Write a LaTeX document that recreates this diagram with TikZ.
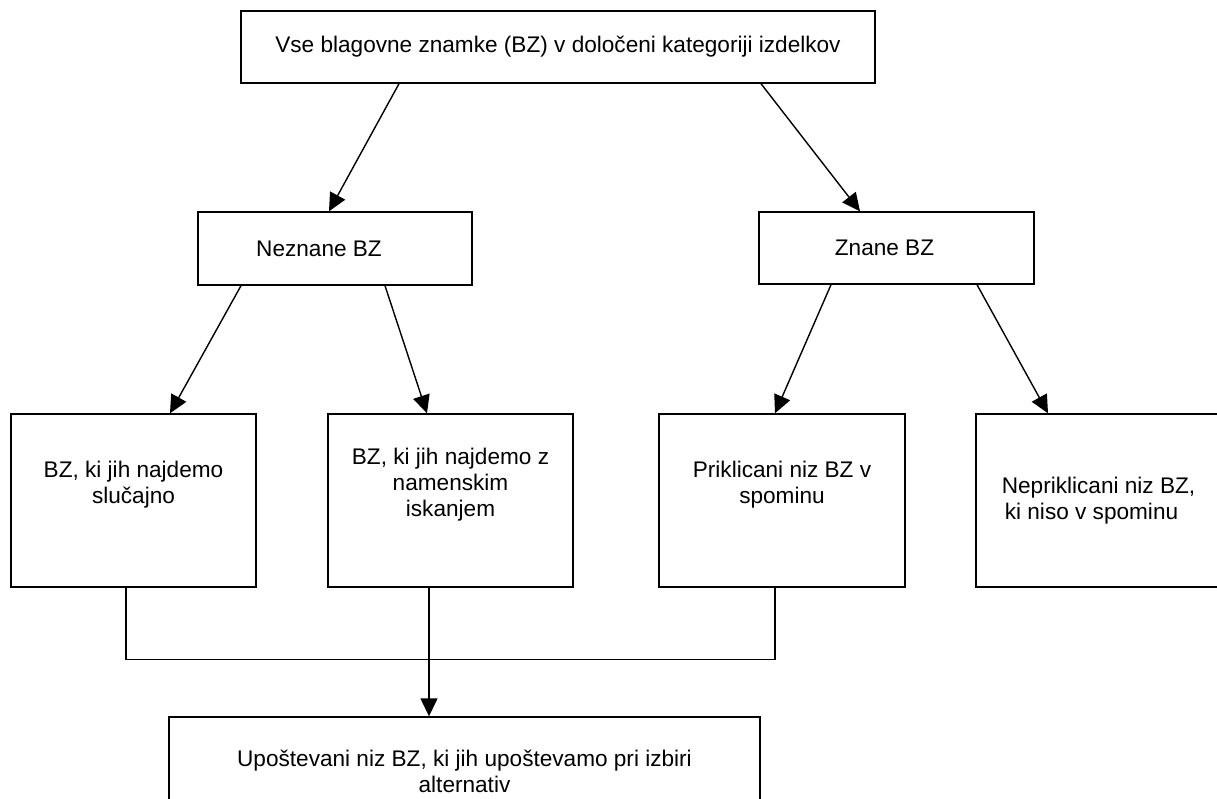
\documentclass[tikz,border=0pt]{standalone}
\usepackage{fontspec}
\setmainfont{Liberation Sans}
\usetikzlibrary{arrows.meta}

\begin{document}
\begin{tikzpicture}[x=1pt, y=-1pt, font=\fontsize{22.6}{26}\selectfont]
\tikzset{box/.style={draw, line width=1.4pt, inner sep=0, align=center},
    link/.style={line width=1.4pt, -{Triangle[length=18pt, width=17pt]}}}

\useasboundingbox (0, 0) rectangle (1217, 798);
\clip (0, 0) rectangle (1217, 798);

\node[box, minimum width=634, minimum height=72] (top) at (558, 47) {Vse blagovne znamke (BZ) v določeni kategoriji izdelkov};

\node[box, minimum width=274, minimum height=73] (nez) at (335, 248.5) {\hspace*{-32pt}Neznane BZ};
\node[box, minimum width=275, minimum height=72] (zn) at (896.5, 248) {\hspace*{-24pt}Znane BZ};

\node[box, minimum width=245, minimum height=173] (b1) at (133.5, 500.5) {BZ, ki jih najdemo\\slučajno\\[10pt]};
\node[box, minimum width=245, minimum height=173] (b2) at (450.5, 500.5) {BZ, ki jih najdemo z\\namenskim\\iskanjem\\[10pt]};
\node[box, minimum width=246, minimum height=173] (b3) at (782, 500.5) {Priklicani niz BZ v\\spominu\\[10pt]};
\node[box, minimum width=245, minimum height=173] (b4) at (1098.5, 500.5) {Nepriklicani niz BZ,\\ki niso v spominu\hspace*{14pt}};

\node[box, minimum width=591, minimum height=108] (upo) at (464.5, 771) {Upoštevani niz BZ, ki jih upoštevamo pri izbiri\\alternativ};

% arrows down the tree
\draw[link] ([xshift=-159pt]top.south) -- ([xshift=-6pt]nez.north);
\draw[link] ([xshift=203pt]top.south) -- ([xshift=-36.5pt]zn.north);
\draw[link] ([xshift=-94pt]nez.south) -- ([xshift=36.5pt]b1.north);
\draw[link] ([xshift=50pt]nez.south) -- ([xshift=-23.5pt]b2.north);
\draw[link] ([xshift=-65.5pt]zn.south) -- ([xshift=-7pt]b3.north);
\draw[link] ([xshift=80.5pt]zn.south) -- ([xshift=-50.5pt]b4.north);

% joining line
\draw[line width=1.4pt] ([xshift=-7.5pt]b1.south) |- ([xshift=-7pt, yshift=-72pt]b3.south) -- ([xshift=-7pt]b3.south);
\draw[link] ([xshift=-21.5pt]b2.south) -- ([xshift=-35.5pt]upo.north);
\end{tikzpicture}
\end{document}
